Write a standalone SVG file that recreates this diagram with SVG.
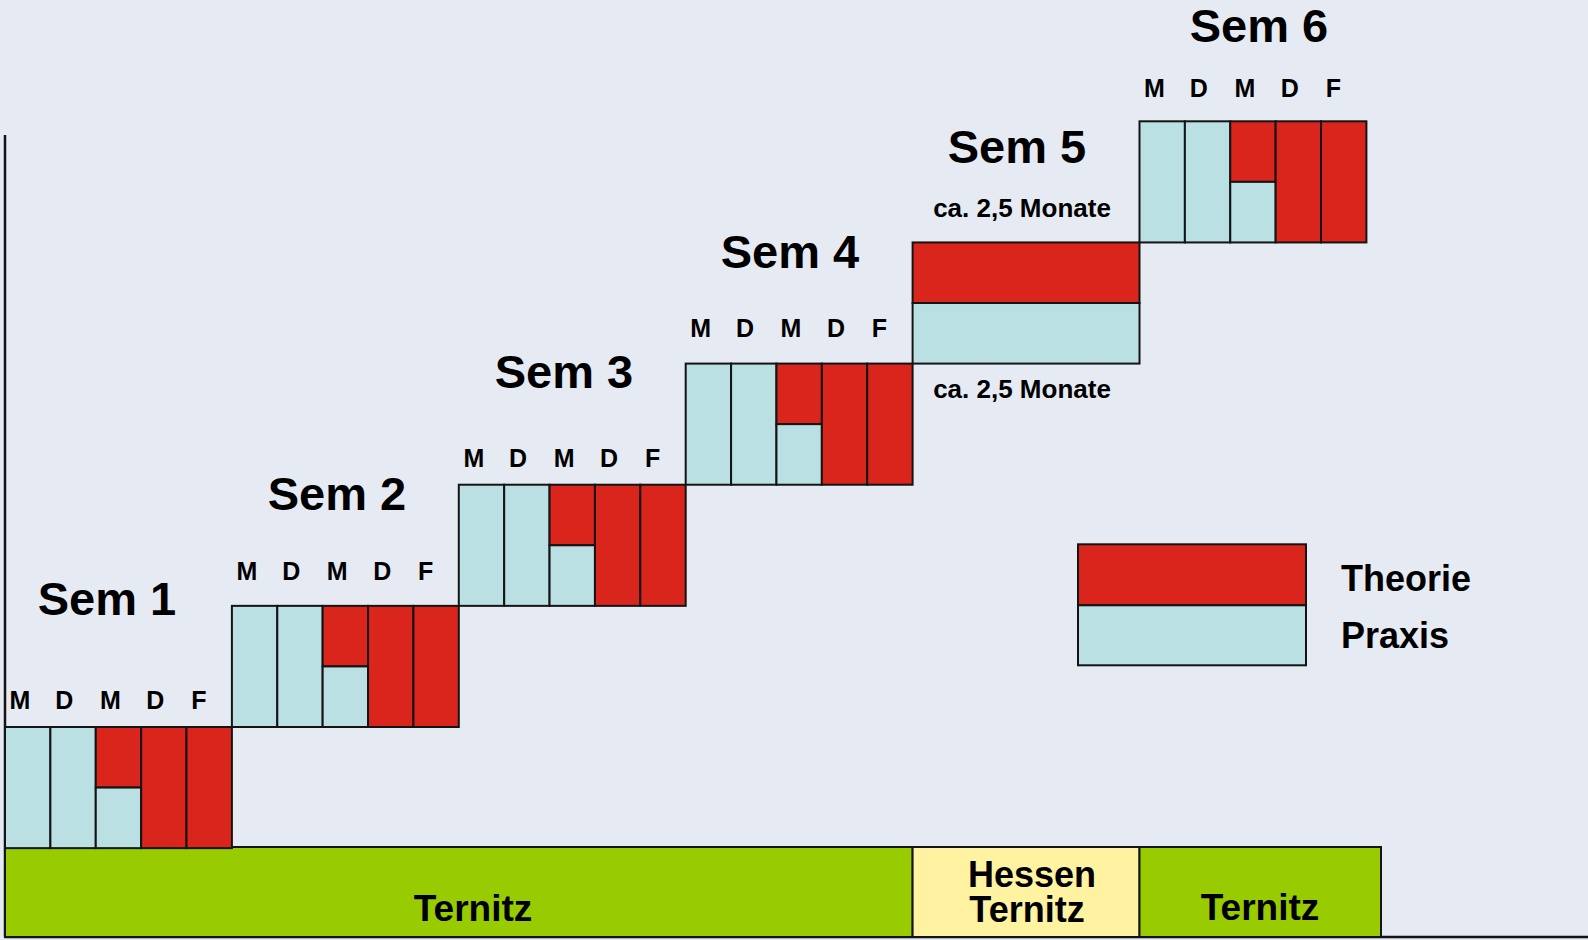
<svg xmlns="http://www.w3.org/2000/svg" width="1588" height="940" viewBox="0 0 1588 940">
<defs>
<style>
.bg{fill:#E6EAF2}
.c{fill:#BAE0E3;stroke:#141414;stroke-width:2}
.r{fill:#DA251D;stroke:#141414;stroke-width:2}
.g{fill:#99CC00;stroke:#141414;stroke-width:2}
.y{fill:#FFF2A1;stroke:#141414;stroke-width:2}
text{font-family:"Liberation Sans",Arial,sans-serif;font-weight:bold;fill:#000}
.t{font-size:47px;text-anchor:middle}
.l{font-size:25px;text-anchor:middle}
.ca{font-size:26px;text-anchor:middle}
.loc{font-size:37px;text-anchor:middle}
.loc2{font-size:36px;text-anchor:middle}
.lg{font-size:36px}
.ax{stroke:#141414;stroke-width:2.5;fill:none}
</style>
<g id="cells">
<rect class="c" x="0" y="0" width="45.38" height="121.14"/>
<rect class="c" x="45.38" y="0" width="45.38" height="121.14"/>
<rect class="r" x="90.76" y="0" width="45.38" height="60.57"/>
<rect class="c" x="90.76" y="60.57" width="45.38" height="60.57"/>
<rect class="r" x="136.14" y="0" width="45.38" height="121.14"/>
<rect class="r" x="181.52" y="0" width="45.38" height="121.14"/>
</g>
<g id="days">
<text class="l" x="15" y="0">M</text>
<text class="l" x="59.3" y="0">D</text>
<text class="l" x="105.3" y="0">M</text>
<text class="l" x="150.3" y="0">D</text>
<text class="l" x="193.8" y="0">F</text>
</g>
</defs>
<rect class="bg" x="0" y="0" width="1588" height="940"/>

<g id="connectors">
<line class="ax" x1="5" y1="135" x2="5" y2="937"/>
<line class="ax" x1="4" y1="937" x2="1588" y2="937"/>
</g>

<g id="location-ternitz-1">
<rect class="g" x="5" y="847" width="907.6" height="90"/>
<text class="loc" x="473" y="921">Ternitz</text>
</g>
<g id="location-hessen">
<rect class="y" x="912.6" y="847" width="226.9" height="90"/>
<text class="loc2" x="1032" y="887">Hessen</text>
<text class="loc2" x="1027" y="922">Ternitz</text>
</g>
<g id="location-ternitz-2">
<rect class="g" x="1139.5" y="847" width="241.5" height="90"/>
<text class="loc" x="1260" y="920">Ternitz</text>
</g>

<g id="sem1">
<text class="t" x="107" y="615">Sem 1</text>
<use href="#days" x="5" y="709"/>
<use href="#cells" x="5" y="727"/>
</g>
<g id="sem2">
<text class="t" x="337" y="510">Sem 2</text>
<use href="#days" x="231.9" y="579.5"/>
<use href="#cells" x="231.9" y="605.86"/>
</g>
<g id="sem3">
<text class="t" x="564" y="388">Sem 3</text>
<use href="#days" x="458.8" y="466.7"/>
<use href="#cells" x="458.8" y="484.72"/>
</g>
<g id="sem4">
<text class="t" x="790" y="268">Sem 4</text>
<use href="#days" x="685.7" y="337.3"/>
<use href="#cells" x="685.7" y="363.58"/>
</g>
<g id="sem5">
<text class="t" x="1017" y="163">Sem 5</text>
<text class="ca" x="1022" y="217">ca. 2,5 Monate</text>
<rect class="r" x="912.6" y="242.44" width="226.9" height="60.57"/>
<rect class="c" x="912.6" y="303.01" width="226.9" height="60.57"/>
<text class="ca" x="1022" y="398">ca. 2,5 Monate</text>
</g>
<g id="sem6">
<text class="t" x="1259" y="42">Sem 6</text>
<use href="#days" x="1139.5" y="96.7"/>
<use href="#cells" x="1139.5" y="121.3"/>
</g>

<g id="legend">
<rect class="r" x="1078" y="544.3" width="228" height="61"/>
<rect class="c" x="1078" y="605.3" width="228" height="60"/>
<text class="lg" x="1341" y="591">Theorie</text>
<text class="lg" x="1341" y="648">Praxis</text>
</g>
</svg>
